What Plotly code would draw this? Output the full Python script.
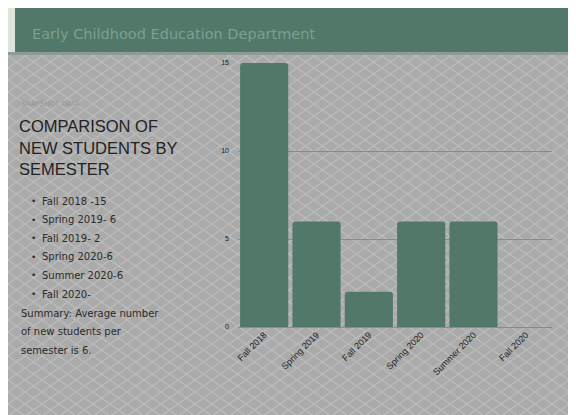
import base64
import plotly.graph_objects as go

# ---- data ----
semesters = ["Fall 2018", "Spring 2019", "Fall 2019", "Spring 2020", "Summer 2020", "Fall 2020"]
new_students = [15, 6, 2, 6, 6, 0]
y_ticks = [0, 5, 10, 15]
header_text = "Early Childhood Education Department"
kicker_text = "SNAPSHOT DATA"
title_lines = ["COMPARISON OF", "NEW STUDENTS BY", "SEMESTER"]
bullet_lines = ["Fall 2018 -15", "Spring 2019- 6", "Fall 2019- 2", "Spring 2020-6", "Summer 2020-6", "Fall 2020-"]
summary_lines = ["Summary: Average number", "of new students per", "semester is 6."]

# ---- layout geometry (screen pixels; page body has an 8px margin) ----
OFF = 8
W, H = 576 - OFF, 415 - OFF
SL, SR, ST, SB = 238, 552, 63, 327          # plot area on screen
L, R, T, B = SL - OFF, SR - OFF, ST - OFF, SB - OFF
PW, PH = R - L, B - T


def px(xs):
    return (xs - SL) / PW


def py(ys):
    return (SB - ys) / PH


GREEN = "#52786a"
GRAY = "#aaaaaa"

# diamond lattice background as an svg pattern
bw, bh = W, H
svg = f'''<svg xmlns="http://www.w3.org/2000/svg" width="{bw}" height="{bh}">
<defs><pattern id="p" width="17" height="12" patternUnits="userSpaceOnUse">
<rect width="17" height="12" fill="{GRAY}"/>
<path d="M0,0 L17,12 M17,0 L0,12" stroke="#bcbcbc" stroke-width="1.3"/>
</pattern></defs>
<rect width="{bw}" height="{bh}" fill="url(#p)"/></svg>'''
svg_uri = "data:image/svg+xml;base64," + base64.b64encode(svg.encode()).decode()

fig = go.Figure(
    go.Bar(
        x=semesters,
        y=new_students,
        marker=dict(color=GREEN, line=dict(width=0)),
        hoverinfo="x+y",
    )
)

shapes = [
    # pale strip
    dict(type="rect", xref="paper", yref="paper", x0=px(7), x1=px(15), y0=py(52), y1=py(0),
         fillcolor="#dde5db", line=dict(width=0), layer="below"),
    # green header
    dict(type="rect", xref="paper", yref="paper", x0=px(15), x1=px(600), y0=py(52), y1=py(0),
         fillcolor=GREEN, line=dict(width=0), layer="below"),
    # shadow under header
    dict(type="rect", xref="paper", yref="paper", x0=px(0), x1=px(600), y0=py(55), y1=py(52),
         fillcolor="#8e9a94", line=dict(width=0), layer="below"),
]

images = [
    dict(source=svg_uri, xref="paper", yref="paper", x=px(8), y=py(8), sizex=W / PW,
         sizey=H / PH, sizing="stretch", layer="below", xanchor="left", yanchor="top"),
]

ann = []
ann.append(dict(text=header_text, x=px(30), y=py(34), xref="paper", yref="paper", showarrow=False,
                xanchor="left", yanchor="middle",
                font=dict(family="DejaVu Sans", size=14.5, color="#7aa190")))
ann.append(dict(text=kicker_text, x=px(19), y=py(104), xref="paper", yref="paper", showarrow=False,
                xanchor="left", yanchor="middle",
                font=dict(family="DejaVu Sans", size=7, color="#959595")))
for i, t in enumerate(title_lines):
    ann.append(dict(text=t, x=px(17), y=py(126 + 21.5 * i), xref="paper", yref="paper", showarrow=False,
                    xanchor="left", yanchor="middle",
                    font=dict(family="Liberation Sans", size=16.5, color="#222222")))
for i, t in enumerate(bullet_lines):
    ann.append(dict(text="•", x=px(29), y=py(201 + 18.6 * i), xref="paper", yref="paper", showarrow=False,
                    xanchor="left", yanchor="middle",
                    font=dict(family="DejaVu Sans", size=9, color="#2a2a2a")))
    ann.append(dict(text=t, x=px(40), y=py(201 + 18.6 * i), xref="paper", yref="paper", showarrow=False,
                    xanchor="left", yanchor="middle",
                    font=dict(family="DejaVu Sans", size=10, color="#2a2a2a")))
for i, t in enumerate(summary_lines):
    ann.append(dict(text=t, x=px(19), y=py(313 + 18.6 * i), xref="paper", yref="paper", showarrow=False,
                    xanchor="left", yanchor="middle",
                    font=dict(family="DejaVu Sans", size=10, color="#2a2a2a")))

fig.update_layout(
    width=W, height=H,
    margin=dict(l=L, r=W - R, t=T, b=H - B, pad=0),
    paper_bgcolor=GRAY,
    plot_bgcolor="rgba(0,0,0,0)",
    bargap=0.08,
    barcornerradius=3,
    showlegend=False,
    shapes=shapes,
    images=images,
    annotations=ann,
    xaxis=dict(
        tickangle=-45, showgrid=False, showline=False, ticks="", zeroline=False,
        tickfont=dict(family="Liberation Sans", size=9, color="#222222"),
    ),
    yaxis=dict(
        range=[0, 15], tickvals=y_ticks, showgrid=True, gridcolor="#8a8a8a", gridwidth=0.8,
        zeroline=True, zerolinecolor="#8a8a8a", zerolinewidth=0.8, showline=False, ticks="",
        ticklabelstandoff=8,
        tickfont=dict(family="Liberation Sans", size=7, color="#222222"),
    ),
)

fig.write_html("out.html")
